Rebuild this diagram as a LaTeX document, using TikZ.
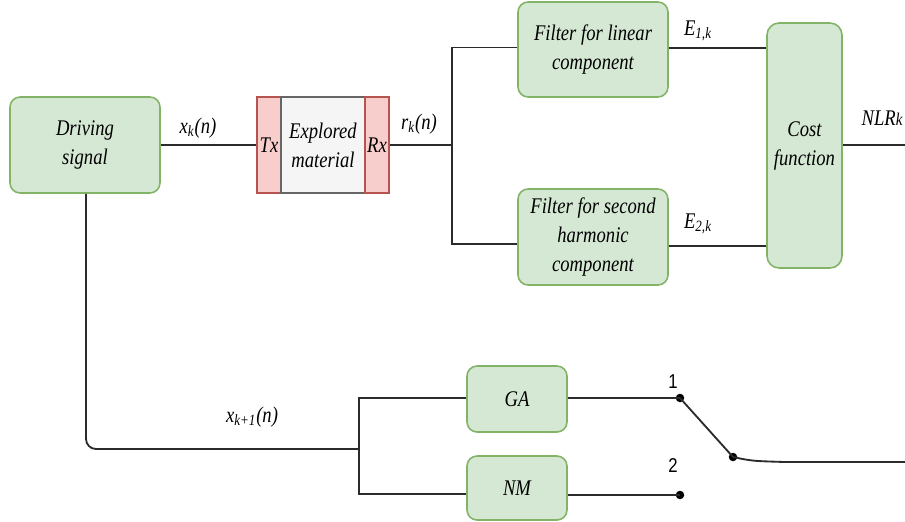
\documentclass[tikz,border=0pt]{standalone}
\usepackage{graphicx}
\usepackage{fontspec}
\setmainfont{Liberation Serif}
\newfontfamily\numfont{Liberation Sans}
\newcommand{\vs}[1]{\scalebox{1}[1.2]{#1}}
\definecolor{gfill}{HTML}{D5E8D4}
\definecolor{gline}{HTML}{82B366}
\definecolor{rfill}{HTML}{F8CECC}
\definecolor{rline}{HTML}{B85450}
\definecolor{mfill}{HTML}{F5F5F5}
\definecolor{mline}{HTML}{666666}
\definecolor{wirec}{HTML}{2B2B2B}
\tikzset{
  gbox/.style={draw=gline, fill=gfill, line width=0.9pt, rounded corners=0.2cm, align=center, inner sep=0pt},
  rbox/.style={draw=rline, fill=rfill, line width=0.9pt, align=center, inner sep=0pt, minimum width=0.48cm, minimum height=1.92cm},
  mbox/.style={draw=mline, fill=mfill, line width=0.9pt, align=center, inner sep=0pt, minimum width=1.68cm, minimum height=1.92cm},
  wire/.style={draw=wirec, line width=1.05pt},
  dotc/.style={circle, fill=black, inner sep=0pt, minimum size=0.17cm},
  lbl/.style={inner sep=0pt},
  numl/.style={inner sep=0pt, font=\numfont\fontsize{9.5}{10}\selectfont}
}
\begin{document}
\begin{tikzpicture}[x=0.02cm, y=-0.02cm, font=\fontsize{10.6}{16.5}\selectfont\itshape]
\useasboundingbox (0,0) rectangle (905,521);

% boxes
\node[gbox, minimum width=3.0cm, minimum height=1.92cm] (ds) at (85,145) {\vs{Driving}\\\vs{signal}};
\node[rbox] (tx) at (269,145) {\vs{Tx}};
\node[mbox] (em) at (323,145) {\vs{Explored}\\\vs{material}};
\node[rbox] (rx) at (377,145) {\vs{Rx}};
\node[gbox, minimum width=3.0cm, minimum height=1.9cm] (f1) at (593,49.5) {\vs{Filter for linear}\\\vs{component}};
\node[gbox, minimum width=3.0cm, minimum height=1.92cm] (f2) at (593,237) {\vs{Filter for second}\\\vs{harmonic}\\\vs{component}};
\node[gbox, minimum width=1.5cm, minimum height=4.9cm, rounded corners=0.24cm] (cf) at (804.5,145.5) {\vs{Cost}\\\vs{function}};
\node[gbox, minimum width=2.0cm, minimum height=1.32cm] (ga) at (517,399) {\vs{GA}};
\node[gbox, minimum width=2.0cm, minimum height=1.28cm] (nm) at (517,488) {\vs{NM}};

% junction coordinates
\coordinate (s1) at (452,145);
\coordinate (s1t) at (452,47.5);
\coordinate (s1b) at (452,244);
\coordinate (l1) at (720,48);
\coordinate (l2) at (720,246);
\coordinate (out1) at (905,145);
\coordinate (s2) at (359,449);
\coordinate (s2t) at (359,398);
\coordinate (s2b) at (359,494);
\coordinate (out2) at (905,462);

% switch dots
\node[dotc] (d1) at (680,398) {};
\node[dotc] (d2) at (680,495) {};
\node[dotc] (d3) at (733,457) {};

% wires
\draw[wire] (ds.east) -- (tx.west);
\draw[wire] (rx.east) -- (s1);
\draw[wire] (f1.west |- s1t) -- (s1t) -- (s1b) -- (f2.west |- s1b);
\draw[wire] (f1.east |- l1) -- (cf.west |- l1);
\draw[wire] (f2.east |- l2) -- (cf.west |- l2);
\draw[wire] (cf.east |- out1) -- (out1);
\draw[wire, rounded corners=0.2cm] (ds.south -| 86,0) |- (s2);
\draw[wire] (ga.west |- s2t) -- (s2t) -- (s2b) -- (nm.west |- s2b);
\draw[wire] (ga.east |- d1) -- (d1.center);
\draw[wire] (nm.east |- d2) -- (d2.center);
\draw[wire] (d1.center) -- (d3.center);
\draw[wire] (d3.center) .. controls (752,461) .. (785,462) -- (out2);

% labels
\node[lbl] (lxk) at (198,128) {\vs{x\textsubscript{k}(n)}};
\node[lbl] (lrk) at (419,124) {\vs{r\textsubscript{k}(n)}};
\node[lbl] (le1) at (698,31) {\vs{E\textsubscript{1,k}}};
\node[lbl] (le2) at (698,224) {\vs{E\textsubscript{2,k}}};
\node[lbl] (lnlr) at (882,118) {\vs{NLR{\fontsize{8.5}{10}\selectfont k}}};
\node[lbl] (lxk1) at (252,417) {\vs{x\textsubscript{k+1}(n)}};
\node[numl] (n1) at (673,382) {\vs{1}};
\node[numl] (n2) at (673,465) {\vs{2}};
\end{tikzpicture}
\end{document}
